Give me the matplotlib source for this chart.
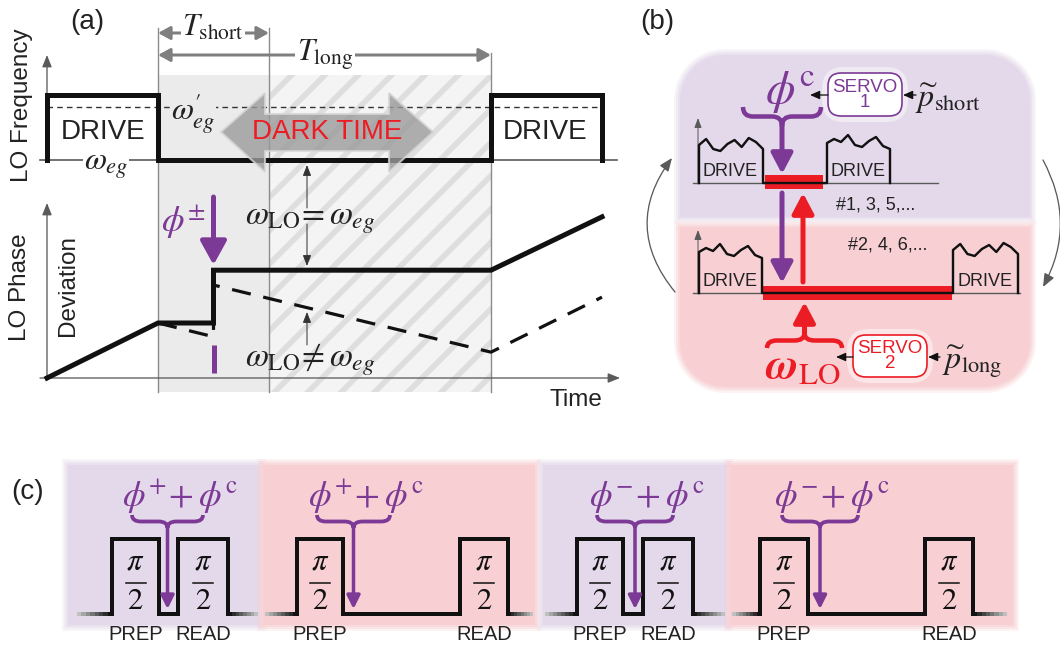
import numpy as np
import matplotlib.pyplot as plt
from matplotlib.path import Path
from matplotlib.patches import PathPatch, Rectangle, Polygon, FancyBboxPatch, FancyArrowPatch
from matplotlib.transforms import Affine2D

plt.rcParams['font.family'] = ['Liberation Sans', 'DejaVu Sans']
plt.rcParams['mathtext.fontset'] = 'stix'
plt.rcParams['hatch.linewidth'] = 4.0

PX = 0.72  # points per pixel (dpi 100)
PURPLE = '#7c3a96'
RED = '#ec1c24'
LAV = '#e4d9ea'
PINK = '#f8d0d3'
AXG = '#5a5a5a'

# ---- panel (a): time in units of one drive period ----
freq_t = [0, 0, 1, 1, 4, 4, 5, 5]
freq_v = [0, 1, 1, 0, 0, 1, 1, 0]
freq_shift = 0.82
dark_edges = [1, 2, 4]
phase_t = [0, 1, 1.5, 1.5, 4, 5]
phase_v = [0, 1.0, 1.0, 1.96, 1.96, 2.93]
dphase_t = [1, 1.5, 1.5, 4, 5]
dphase_v = [1.0, 0.75, 1.69, 0.47, 1.47]
jump_t = 1.5

# ---- panel (b): wiggly drive tops (pixel offsets) ----
wig_a = [0, -6, 4, 6, -1, -5, 2, -7, -3, 4]
wig_b = [0, -4, -1, -8, 2, 4, -2, -6, 3, 6]
seq_odd = '#1, 3, 5,...'
seq_even = '#2, 4, 6,...'

# ---- panel (c): pulse sequences ----
c_bg = [(68, 260, LAV), (263, 535, PINK), (543, 727, LAV), (730, 1013, PINK)]
c_start = [77, 265, 545, 732]
c_rise = [[112, 178], [297, 460], [577, 643], [760, 925]]
c_fall = [[159, 228], [343, 508], [623, 693], [808, 973]]
c_end = [258, 533, 725, 1007]
c_sign = ['+', '+', '-', '-']
c_brace = [(132, 203), (317, 390), (597, 673), (782, 858)]
c_labels = ['PREP', 'READ']

fig = plt.figure(figsize=(10.6, 6.5), dpi=100)
ax = fig.add_axes([0, 0, 1, 1])
ax.set_xlim(0, 1060)
ax.set_ylim(650, 0)
ax.axis('off')

T0, TU = 47, 111
tr_f = Affine2D().scale(TU, -65).translate(T0, 160) + ax.transData
tr_p = Affine2D().scale(TU, -55).translate(T0, 378) + ax.transData
tr_t = Affine2D().scale(TU, 1).translate(T0, 0) + ax.transData


def arrow(p0, p1, color, lw, hl, hw, transform=None, z=6, style='-|>'):
    a = FancyArrowPatch(p0, p1, arrowstyle=f'{style},head_length={hl/10:.2f},head_width={hw/20:.2f}',
                        mutation_scale=10 * PX, color=color, lw=lw * PX, shrinkA=0, shrinkB=0,
                        transform=transform if transform is not None else ax.transData, zorder=z)
    ax.add_patch(a)


def brace(xl, xr, ytop, ytip, color, lw, d=10):
    xc = (xl + xr) / 2
    ym = (ytop + ytip) / 2
    verts = [(xl, ytop), (xl, ym), (xl + d, ym), (xc - d, ym), (xc, ym), (xc, ytip),
             (xc, ym), (xc + d, ym), (xr - d, ym), (xr, ym), (xr, ytop)]
    codes = [Path.MOVETO, Path.CURVE3, Path.CURVE3, Path.LINETO, Path.CURVE3, Path.CURVE3,
             Path.CURVE3, Path.CURVE3, Path.LINETO, Path.CURVE3, Path.CURVE3]
    ax.add_patch(PathPatch(Path(verts, codes), fc='none', ec=color, lw=lw * PX, zorder=6,
                           capstyle='butt'))


def rounded(x0, y0, x1, y1, rt, rb):
    def arc(cx, cy, r, a0, a1):
        a = np.linspace(a0, a1, 16)
        return list(zip(cx + r * np.cos(a), cy + r * np.sin(a)))
    return (arc(x0 + rt, y0 + rt, rt, np.pi, 1.5 * np.pi) + arc(x1 - rt, y0 + rt, rt, 1.5 * np.pi, 2 * np.pi)
            + arc(x1 - rb, y1 - rb, rb, 0, 0.5 * np.pi) + arc(x0 + rb, y1 - rb, rb, 0.5 * np.pi, np.pi))


def soft_box(x0, y0, x1, y1, color, rt=0, rb=0):
    for g, al in [(6, 0.25), (4, 0.35), (2, 0.5)]:
        ax.add_patch(Polygon(rounded(x0 - g, y0 - g, x1 + g, y1 + g, rt + g if rt else 0, rb + g if rb else 0),
                             fc=color, ec='none', alpha=al, zorder=0))
    ax.add_patch(Polygon(rounded(x0, y0, x1, y1, rt, rb), fc=color, ec='none', zorder=0))


# ======================= panel (a) =======================
ax.text(87, 22, '(a)', fontsize=20, ha='center', va='center', color='#222')
ax.text(22, 105, 'LO Frequency', fontsize=17.5, rotation=90, ha='center', va='center', color='#222')
ax.text(20, 287, 'LO Phase', fontsize=17.5, rotation=90, ha='center', va='center', color='#222')
ax.text(68, 285, 'Deviation', fontsize=17.5, rotation=90, ha='center', va='center', color='#222')
ax.text(576, 400, 'Time', fontsize=17.5, ha='center', va='center', color='#222')

ax.add_patch(Rectangle((dark_edges[0], 75), dark_edges[1] - dark_edges[0], 317, transform=tr_t,
                       fc='#ebebeb', ec='none', zorder=0))
ax.add_patch(Rectangle((dark_edges[1], 75), dark_edges[2] - dark_edges[1], 317, transform=tr_t,
                       fc='#f4f4f4', ec='#dedede', lw=0, hatch='/', zorder=0))
for te, ytop in zip(dark_edges, [28, 28, 53]):
    ax.plot([te, te], [ytop, 392], transform=tr_t, color='#8c8c8c', lw=1, zorder=1)

# T arrows
arrow((dark_edges[0], 33), (dark_edges[1], 33), '#7f7f7f', 3, 10, 11, transform=tr_t, style='<|-|>')
arrow((dark_edges[0], 55), (dark_edges[2], 55), '#7f7f7f', 3, 10, 11, transform=tr_t, style='<|-|>')
ax.text(213, 28, r'$T_{\rm short}$', fontsize=22, ha='center', va='center', color='#222',
        bbox=dict(fc='white', ec='none', pad=1), zorder=7)
ax.text(325, 55, r'$T_{\rm long}$', fontsize=22, ha='center', va='center', color='#222',
        bbox=dict(fc='white', ec='none', pad=1), zorder=7)

# frequency trace
ax.plot([40, 617], [160, 160], color=AXG, lw=1.2, zorder=2)
arrow((47, 162), (47, 55), AXG, 1.3, 10, 8, z=2)
ax.plot([0, 5.02], [freq_shift, freq_shift], transform=tr_f, color='#333', lw=1, ls=(0, (4, 3)), zorder=2)
ax.plot(freq_t, freq_v, transform=tr_f, color='#111', lw=5 * PX, solid_joinstyle='miter', zorder=4)
ax.text(103, 132, 'DRIVE', fontsize=20, ha='center', va='center', color='#222')
ax.text(545, 132, 'DRIVE', fontsize=20, ha='center', va='center', color='#222')
ax.text(193, 114, r"$\omega^{\prime}_{eg}$", fontsize=23, ha='center', va='center', color='#222',
        bbox=dict(fc='#ebebeb', ec='none', pad=0.5), zorder=3)
ax.text(106, 166, r'$\omega_{eg}$', fontsize=23, ha='center', va='center', color='#222',
        bbox=dict(fc='white', ec='none', pad=0.5), zorder=3)

dark_arrow = [(221, 132), (265, 93), (265, 114), (389, 114), (389, 93), (433, 132),
              (389, 172), (389, 151), (265, 151), (265, 172)]
ax.add_patch(Polygon(dark_arrow, fc='#9b9b9b', ec='#d6d6d6', lw=1.5, alpha=0.8, zorder=5))
ax.text(327, 132, 'DARK TIME', fontsize=20, ha='center', va='center', color=RED, zorder=6)

# phase trace
arrow((40, 378), (620, 378), AXG, 1.3, 10, 8, z=2)
arrow((47, 380), (47, 203), AXG, 1.3, 10, 8, z=2)
ax.plot(dphase_t, dphase_v, transform=tr_p, color='#111', lw=3.2 * PX, ls=(0, (6, 4)), zorder=3)
ax.plot(phase_t, phase_v, transform=tr_p, color='#111', lw=5 * PX, solid_joinstyle='miter', zorder=4)

arrow((307, 208), (307, 165), '#333', 1, 9, 7)
arrow((307, 224), (307, 266), '#333', 1, 9, 7)
arrow((307, 345), (307, 312), '#333', 1, 9, 7)
ax.text(310, 220, r'$\omega_{\rm LO}\!=\omega_{eg}$', fontsize=24, ha='center', va='center', color='#222', zorder=7)
ax.text(310, 360, r'$\omega_{\rm LO}\!\neq\omega_{eg}$', fontsize=24, ha='center', va='center', color='#222', zorder=7)

arrow((jump_t, 197), (jump_t, 265), PURPLE, 5, 20, 22, transform=tr_t)
ax.plot([jump_t, jump_t], [345, 373], transform=tr_t, color=PURPLE, lw=5 * PX, solid_capstyle='butt', zorder=6)
ax.text(183, 222, r'$\phi^{\pm}$', fontsize=26, ha='center', va='center', color=PURPLE)

# ======================= panel (b) =======================
ax.text(657, 22, '(b)', fontsize=20, ha='center', va='center', color='#222')
soft_box(680, 55, 1030, 217, LAV, rt=45, rb=0)
soft_box(680, 227, 1030, 387, PINK, rt=0, rb=45)


def drive(x0, x1, ybase, ytop, wig):
    xs = np.linspace(x0, x1, len(wig))
    return [(x0, ybase)] + [(x, ytop + w) for x, w in zip(xs, wig)] + [(x1, ybase)]


def trace(segments):
    pts = []
    for s in segments:
        pts += s
    xs, ys = zip(*pts)
    ax.plot(xs, ys, color='#111', lw=2.4 * PX, zorder=5, solid_joinstyle='round')


# top (short) cycle
ax.plot([693, 938], [183, 183], color=AXG, lw=1, zorder=2)
arrow((698, 184), (698, 118), AXG, 1, 8, 6, z=2)
ax.add_patch(Rectangle((765, 175), 58, 14, fc=RED, ec='none', zorder=4))
trace([drive(699, 763, 183, 145, wig_a), drive(827, 890, 183, 143, wig_b)])
ax.text(730, 171, 'DRIVE', fontsize=13, ha='center', va='center', color='#222')
ax.text(858, 171, 'DRIVE', fontsize=13, ha='center', va='center', color='#222')
ax.text(876, 205, seq_odd, fontsize=13, ha='center', va='center', color='#222')

brace(743, 821, 107, 126, PURPLE, 4.5)
arrow((782, 124), (782, 174), PURPLE, 5, 17, 18)
ax.text(790, 93, r'$\phi^{\rm c}$', fontsize=34, ha='center', va='center', color=PURPLE)
ax.add_patch(FancyBboxPatch((822, 67), 86, 55, boxstyle='round,pad=0,rounding_size=22',
                            fc='white', ec='none', alpha=0.45, zorder=3))
ax.add_patch(FancyBboxPatch((828, 73), 74, 43, boxstyle='round,pad=0,rounding_size=13',
                            fc='white', ec=PURPLE, lw=1.2, zorder=4))
ax.text(865, 95, 'SERVO\n1', fontsize=13.5, ha='center', va='center', color=PURPLE, linespacing=0.9, zorder=5)
arrow((828, 95), (810, 95), '#111', 1.3, 8, 7)
arrow((916, 95), (903, 95), '#111', 1.3, 8, 7)
ax.text(948, 99, r'$\widetilde{p}_{\rm short}$', fontsize=23, ha='center', va='center', color='#222')

# long cycle
ax.plot([693, 1020], [293, 293], color=AXG, lw=1, zorder=2)
arrow((698, 294), (698, 230), AXG, 1, 8, 6, z=2)
ax.add_patch(Rectangle((763, 286), 189, 14, fc=RED, ec='none', zorder=4))
trace([drive(699, 762, 293, 252, wig_b), drive(953, 1018, 293, 250, wig_a)])
ax.text(730, 282, 'DRIVE', fontsize=13, ha='center', va='center', color='#222')
ax.text(985, 282, 'DRIVE', fontsize=13, ha='center', va='center', color='#222')
ax.text(888, 245, seq_even, fontsize=13, ha='center', va='center', color='#222')

arrow((782, 193), (782, 283), PURPLE, 5, 17, 18)
arrow((803, 282), (803, 193), RED, 5, 17, 18)
brace(767, 842, 348, 333, RED, 4.5)
arrow((804.5, 335), (804.5, 302), RED, 5, 17, 18)
ax.text(803, 366, r'$\mathbfit{\omega}_{\rm LO}$', fontsize=32, ha='center', va='center', color=RED)
ax.add_patch(FancyBboxPatch((847, 329), 86, 54, boxstyle='round,pad=0,rounding_size=22',
                            fc='white', ec='none', alpha=0.45, zorder=3))
ax.add_patch(FancyBboxPatch((853, 335), 74, 42, boxstyle='round,pad=0,rounding_size=13',
                            fc='white', ec=RED, lw=1.2, zorder=4))
ax.text(890, 356, 'SERVO\n2', fontsize=13.5, ha='center', va='center', color=RED, linespacing=0.9, zorder=5)
arrow((853, 357), (836, 357), '#111', 1.3, 8, 7)
arrow((940, 357), (928, 357), '#111', 1.3, 8, 7)
ax.text(972, 362, r'$\widetilde{p}_{\rm long}$', fontsize=23, ha='center', va='center', color='#222')

for p0, p1, rad in [((675, 292), (672, 158), -0.39), ((1043, 160), (1043, 287), -0.27)]:
    ax.add_patch(FancyArrowPatch(p0, p1, connectionstyle=f'arc3,rad={rad}',
                                 arrowstyle='-|>,head_length=1.1,head_width=0.45', mutation_scale=10 * PX,
                                 color=AXG, lw=1.3 * PX, shrinkA=0, shrinkB=0, zorder=2))

# ======================= panel (c) =======================
ax.text(28, 492, '(c)', fontsize=20, ha='center', va='center', color='#222')
for (x0, x1, col) in c_bg:
    soft_box(x0, 465, x1, 625, col)

Y0, Y1 = 614, 539
for i in range(4):
    r, f = c_rise[i], c_fall[i]
    xs = [r[0], r[0], f[0], f[0], r[1], r[1], f[1], f[1]]
    ys = [Y0, Y1, Y1, Y0, Y0, Y1, Y1, Y0]
    ax.plot(xs, ys, color='#111', lw=4 * PX, solid_joinstyle='miter', zorder=4)
    # fading lead-in / lead-out
    for xa, xb in [(c_start[i], r[0]), (f[1], c_end[i])]:
        seg = np.linspace(xa, xb, 9)
        for k in range(8):
            shade = k / 7 if xa == c_start[i] else 1 - k / 7
            ax.plot(seg[k:k + 2], [Y0, Y0], color=str(0.75 - 0.68 * shade), lw=4 * PX,
                    solid_capstyle='butt', zorder=4)
    for j in range(2):
        cx = (r[j] + f[j]) / 2
        ax.text(cx, 562, r'$\pi$', fontsize=22, ha='center', va='center', color='#111', zorder=5)
        ax.plot([cx - 10, cx + 10], [583, 583], color='#111', lw=1.1, zorder=5)
        ax.text(cx, 601, r'$\mathit{2}$', fontsize=22, ha='center', va='center', color='#111', zorder=5)
        ax.text(cx, 635, c_labels[j], fontsize=14.5, ha='center', va='center', color='#222')
    bl, br = c_brace[i]
    bc = (bl + br) / 2
    brace(bl, br, 515, 528, PURPLE, 3.8, d=9)
    arrow((bc, 526), (bc, 609), PURPLE, 3.5, 11, 11)
    sign = r'^{+}' if c_sign[i] == '+' else r'^{-}'
    ax.text(bc + 12, 497, r'$\phi' + sign + r'\!+\phi^{\rm c}$', fontsize=26, ha='center', va='center',
            color=PURPLE, zorder=6)

fig.savefig('out.png', dpi=100)
